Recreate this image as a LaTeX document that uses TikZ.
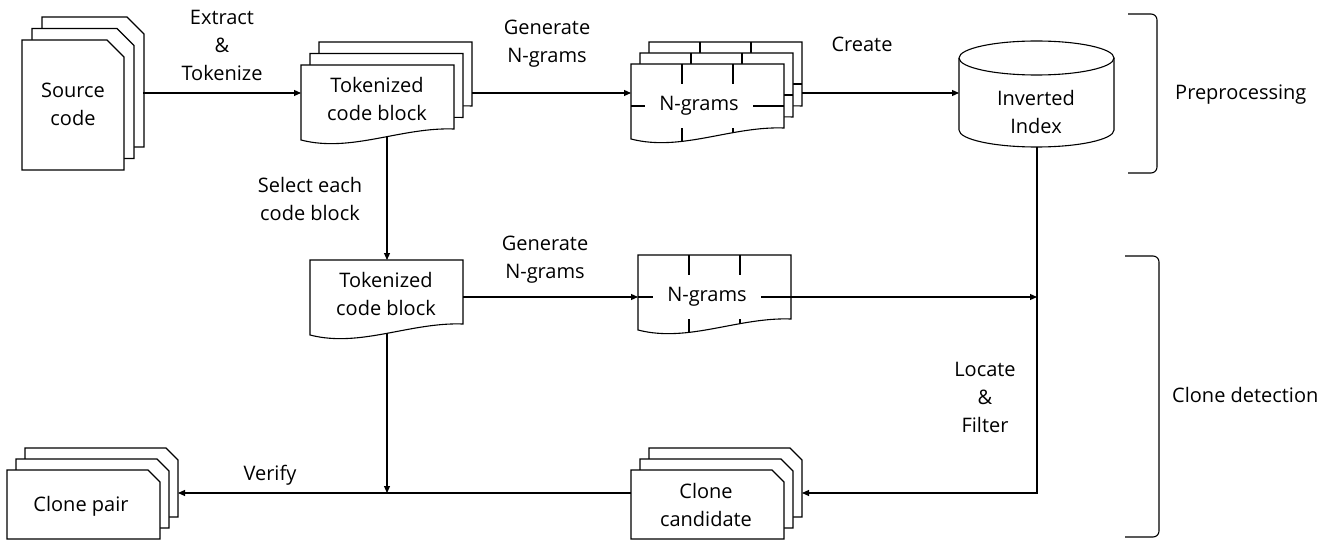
\documentclass[tikz,border=0pt]{standalone}
\usepackage{fontspec}
\setmainfont{Open Sans}
\usetikzlibrary{arrows.meta}
\tikzset {>={Triangle[length=7pt,width=6pt]}}
\tikzset{
  page/.style={draw,fill=white,line width=1.1pt},
  wire/.style={line width=1.1pt},
  lbl/.style={align=center,font=\fontsize{20}{28}\selectfont,inner sep=0pt},
  ngbox/.style={fill=white,minimum width=108pt,minimum height=44pt}
}
% page outlines, top left corner given
\newcommand{\srcpage}[2]{\filldraw[page,shift={(#1,#2)}] (0,0) -- (85,0) -- (102,17) -- (102,130) -- (0,130) -- cycle;}
\newcommand{\docpage}[2]{\filldraw[page,shift={(#1,#2)}] (0,0) -- (153,0) -- (153,64) .. controls (100,62) and (50,88) .. (0,75) -- cycle;}
\newcommand{\ngpage}[2]{%
  \begin{scope}[shift={(#1,#2)}]
    \filldraw[page] (0,0) -- (153,0) -- (153,64) .. controls (100,62) and (50,88) .. (0,75) -- cycle;
    \begin{scope}
      \clip (0,0) -- (153,0) -- (153,64) .. controls (100,62) and (50,88) .. (0,75) -- cycle;
      \draw[wire] (51,0) -- (51,90) (102,0) -- (102,90) (0,42) -- (153,42);
    \end{scope}
  \end{scope}}
\newcommand{\clonepage}[2]{\filldraw[page,shift={(#1,#2)}] (0,0) -- (141,0) -- (153,12) -- (153,69) -- (0,69) -- cycle;}

\begin{document}
\begin{tikzpicture}[x=1pt,y=-1pt]
\useasboundingbox (0,0) rectangle (1338,540);
% source code
\srcpage{42}{17}
\srcpage{32}{28.5}
\srcpage{22}{40}
\node[lbl] (src) at (73,104) {Source\\code};
% tokenized blocks
\docpage{319}{42}
\docpage{310}{53.5}
\docpage{301}{65}
\node[lbl] (tok) at (377,99) {Tokenized\\code block};
% n-grams
\ngpage{649}{42}
\ngpage{640}{53}
\ngpage{631}{64}
\node[lbl,ngbox] (ng) at (699,106) {N-grams};
% inverted index
\filldraw[page] (959,58) -- (959,130) arc[start angle=180,end angle=360,x radius=77.5pt,y radius=17pt]
  -- (1114,58) arc[start angle=0,end angle=180,x radius=77.5pt,y radius=17pt] -- cycle;
\draw[wire] (959,58) arc[start angle=180,end angle=360,x radius=77.5pt,y radius=17pt];
\node[lbl] (idx) at (1036,112) {Inverted\\Index};
% second row
\docpage{310}{260}
\node[lbl] (tokb) at (386,294) {Tokenized\\code block};
\ngpage{638}{255}
\node[lbl,ngbox] (ngb) at (707,297) {N-grams};
% clone pair / candidate
\clonepage{25}{448}
\clonepage{16}{459}
\clonepage{7}{470}
\node[lbl] (pair) at (81,506) {Clone pair};
\clonepage{649}{448}
\clonepage{640}{459}
\clonepage{631}{470}
\node[lbl] (cand) at (706,505) {Clone\\candidate};
% brackets
\draw[wire,rounded corners=6pt] (1128,14) -- (1157,14) -- (1157,173) -- (1128,173);
\draw[wire,rounded corners=6pt] (1125,256) -- (1159,256) -- (1159,537) -- (1125,537);
\node[lbl,anchor=west] (pre) at (1175,95) {Preprocessing};
\node[lbl,anchor=west] (det) at (1172,395) {Clone detection};
% connector ends
\coordinate (srcR) at (143,93);
\coordinate (tokL) at (301,93);
\coordinate (tokR) at (472,93);
\coordinate (ngL) at (631,93);
\coordinate (ngR) at (802,93);
\coordinate (idxL) at (959,93);
\coordinate (idxB) at (1037,147);
\coordinate (tokB) at (387,137.5);
\coordinate (tokbT) at (387,260);
\coordinate (tokbR) at (463,297);
\coordinate (ngbL) at (638,297);
\coordinate (ngbR) at (791,297);
\coordinate (join) at (1037,297);
\coordinate (tokbB) at (387,333);
\coordinate (merge) at (387,493);
\coordinate (candR) at (802,493);
\coordinate (candL) at (631,493);
\coordinate (pairR) at (178,493);
% connectors
\draw[wire,->] (srcR) -- (tokL);
\draw[wire,->] (tokR) -- (ngL);
\draw[wire,->] (ngR) -- (idxL);
\draw[wire,->] (tokB) -- (tokbT);
\draw[wire,->] (tokbR) -- (ngbL);
\draw[wire,->] (ngbR) -- (join);
\draw[wire,->] (idxB) |- (candR);
\draw[wire,->] (tokbB) -- (merge);
\draw[wire,->] (candL) -- (pairR);
% labels
\node[lbl] (extract) at (222,45) {Extract\\\&\\Tokenize};
\node[lbl] (gen) at (547,44) {Generate\\N-grams};
\node[lbl] (create) at (862,44) {Create};
\node[lbl] (select) at (310,199) {Select each\\code block};
\node[lbl] (genb) at (545,260) {Generate\\N-grams};
\node[lbl] (locate) at (985,397) {Locate\\\&\\Filter};
\node[lbl] (verify) at (270,475) {Verify};
\end{tikzpicture}
\end{document}
